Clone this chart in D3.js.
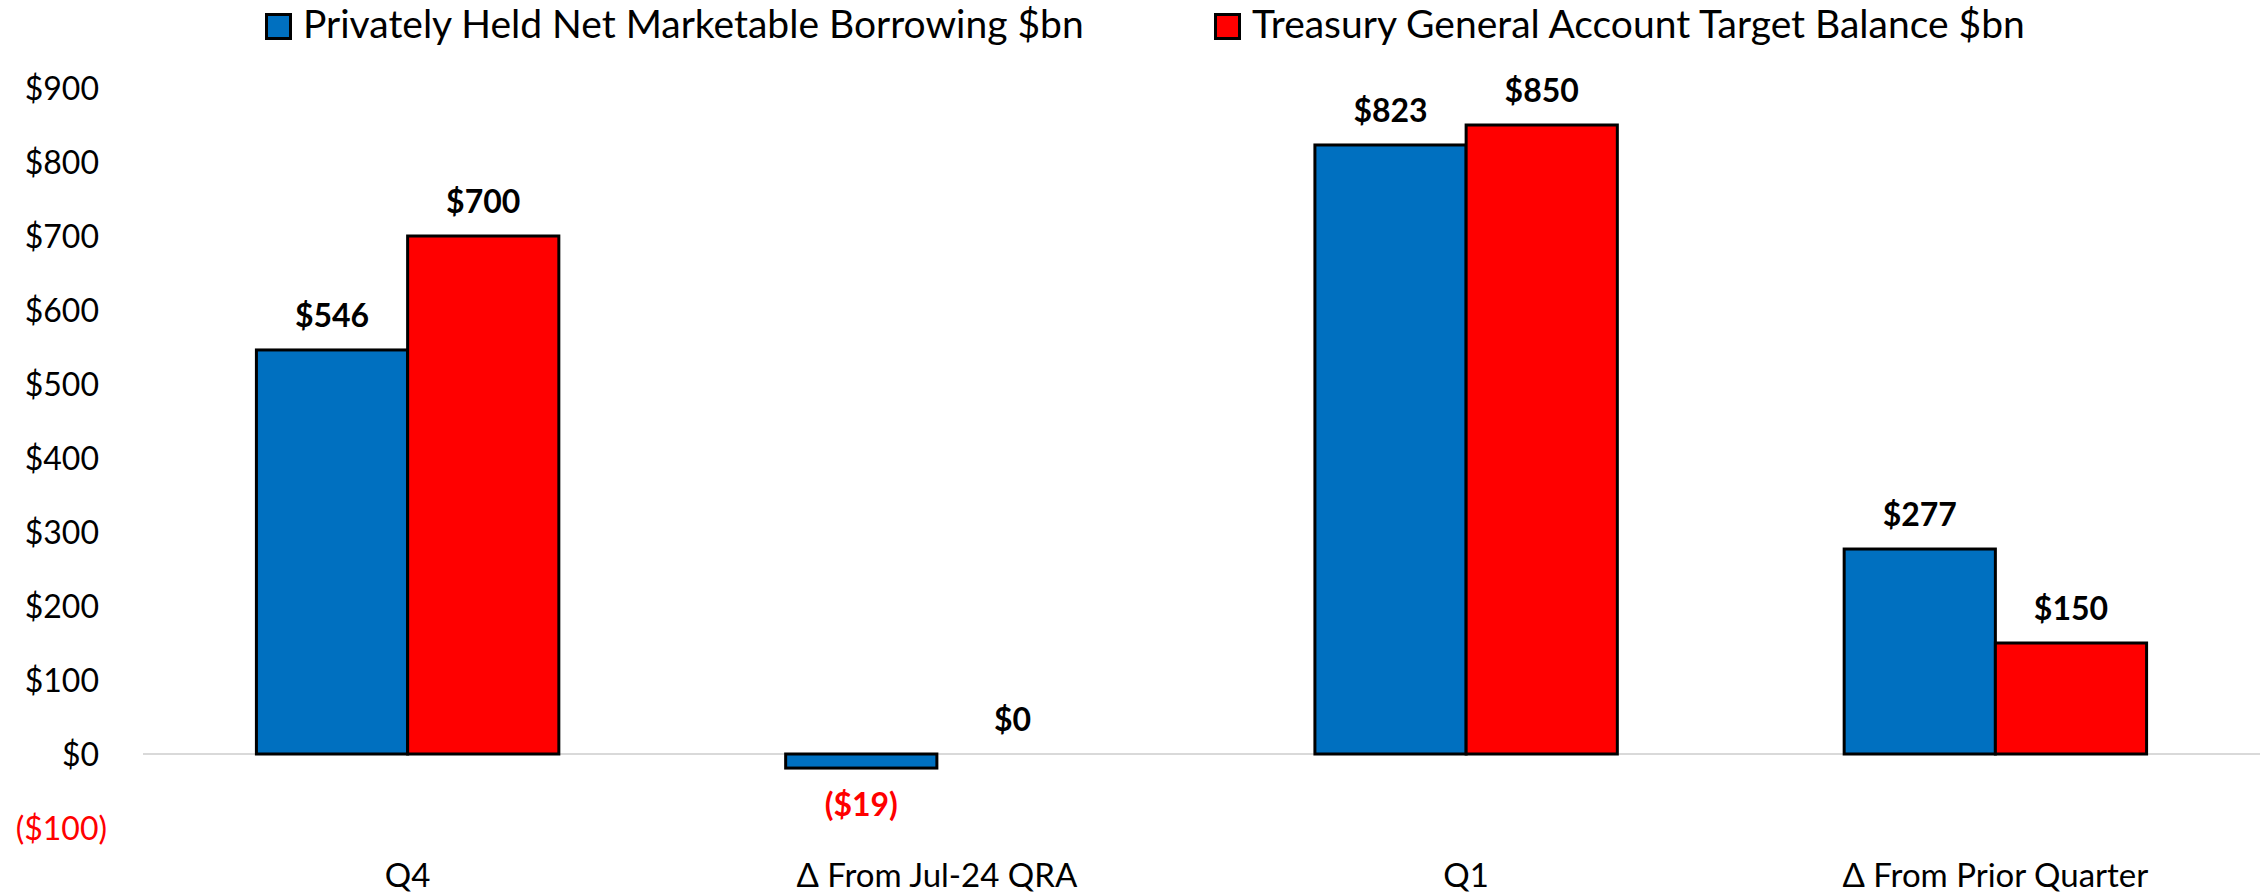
<!DOCTYPE html>
<html>
<head>
<meta charset="utf-8">
<script src="https://cdn.jsdelivr.net/npm/d3@7"></script>
<style>
  html, body { margin: 0; padding: 0; background: #fff; }
  svg { display: block; font-family: Lato, "Open Sans", sans-serif; }
</style>
</head>
<body>
<svg id="chart" width="2267" height="893"></svg>
<script>
// Quarterly refunding figures, $bn
const categories = ["Q4", "Δ From Jul-24 QRA", "Q1", "Δ From Prior Quarter"];
const borrowing = [546, -19, 823, 277];
const tgaTarget = [700, 0, 850, 150];
const seriesNames = [
  "Privately Held Net Marketable Borrowing $bn",
  "Treasury General Account Target Balance $bn"
];
const seriesColors = ["#0070C0", "#FF0000"];
const yTicks = [-100, 0, 100, 200, 300, 400, 500, 600, 700, 800, 900];

const W = 2267, H = 893;
const plot = { left: 143, right: 2260, top: 88, bottom: 828 };

const svg = d3.select("#chart");

const fmt = v => v < 0 ? "($" + Math.abs(v) + ")" : "$" + v;

const x0 = d3.scaleBand()
  .domain(categories)
  .range([plot.left, plot.right])
  .paddingInner(1.5 / 3.5)
  .paddingOuter(0.75 / 3.5);

const x1 = d3.scaleBand()
  .domain([0, 1])
  .range([0, x0.bandwidth()]);

const y = d3.scaleLinear()
  .domain([-100, 900])
  .range([plot.bottom, plot.top]);

// value axis labels (no axis line)
const yAxis = svg.append("g").attr("class", "y-axis");
yAxis.selectAll("text")
  .data(yTicks)
  .join("text")
  .attr("x", d => d < 0 ? 107 : 99)
  .attr("y", d => y(d))
  .attr("dy", "0.36em")
  .attr("text-anchor", "end")
  .attr("font-size", 32)
  .attr("fill", d => d < 0 ? "#FF0000" : "#000")
  .text(fmt);

// zero baseline
svg.append("line")
  .attr("x1", plot.left).attr("x2", plot.right)
  .attr("y1", y(0)).attr("y2", y(0))
  .attr("stroke", "#D9D9D9")
  .attr("stroke-width", 2);

// bars
const rows = categories.map((c, i) => ({ cat: c, vals: [borrowing[i], tgaTarget[i]] }));

const groups = svg.append("g").selectAll("g")
  .data(rows)
  .join("g")
  .attr("transform", d => `translate(${x0(d.cat)},0)`);

groups.selectAll("rect")
  .data(d => d.vals.map((v, s) => ({ v, s })).filter(d => d.v !== 0))
  .join("rect")
  .attr("x", d => x1(d.s))
  .attr("width", x1.bandwidth())
  .attr("y", d => y(Math.max(0, d.v)))
  .attr("height", d => Math.abs(y(d.v) - y(0)))
  .attr("fill", d => seriesColors[d.s])
  .attr("stroke", "#000")
  .attr("stroke-width", 3);

// data labels
groups.selectAll("text.val")
  .data(d => d.vals.map((v, s) => ({ v, s })))
  .join("text")
  .attr("class", "val")
  .attr("x", d => x1(d.s) + x1.bandwidth() / 2)
  .attr("y", d => d.v < 0 ? y(d.v) + 48 : y(d.v) - 23)
  .attr("text-anchor", "middle")
  .attr("font-size", 32)
  .attr("font-weight", "bold")
  .attr("fill", d => d.v < 0 ? "#FF0000" : "#000")
  .text(d => fmt(d.v));

// category labels
svg.append("g").selectAll("text")
  .data(categories)
  .join("text")
  .attr("x", d => x0(d) + x0.bandwidth() / 2)
  .attr("y", 887)
  .attr("text-anchor", "middle")
  .attr("font-size", 33)
  .attr("fill", "#000")
  .text(d => d);

// legend
const legendX = [265, 1214];
const legend = svg.append("g").selectAll("g")
  .data(seriesNames)
  .join("g")
  .attr("transform", (d, i) => `translate(${legendX[i]},0)`);
legend.append("rect")
  .attr("x", 1.5).attr("y", 14.5)
  .attr("width", 24).attr("height", 24)
  .attr("fill", (d, i) => seriesColors[i])
  .attr("stroke", "#000")
  .attr("stroke-width", 3);
legend.append("text")
  .attr("x", 38)
  .attr("y", 38)
  .attr("font-size", 39)
  .attr("fill", "#000")
  .text(d => d);
</script>
</body>
</html>
